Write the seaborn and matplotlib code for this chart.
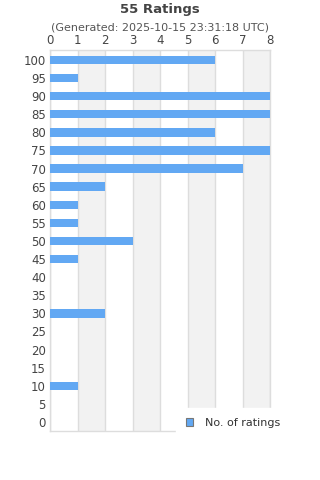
import matplotlib
matplotlib.use("Agg")
import matplotlib.pyplot as plt
import seaborn as sns
import pandas as pd

categories = [str(v) for v in range(100, -1, -5)]
counts = [6, 1, 8, 8, 6, 8, 7, 2, 1, 1, 3, 1, 0, 0, 2, 0, 0, 0, 1, 0, 0]
x_ticks = [0, 1, 2, 3, 4, 5, 6, 7, 8]
title = "55 Ratings"
subtitle = "(Generated: 2025-10-15 23:31:18 UTC)"
series_name = "No. of ratings"

df = pd.DataFrame({"rating": categories, "count": counts})

sns.set_theme(style="white")
plt.rcParams["font.family"] = ["DejaVu Sans"]

fig = plt.figure(figsize=(3.2, 4.8), dpi=100)
ax = fig.add_axes([50 / 320, 1 - 431 / 480, 220 / 320, 381 / 480])

# alternating bands
for i in range(1, 8, 2):
    ax.axvspan(i, i + 1, color="#f2f2f2", zorder=0, lw=0)

sns.barplot(data=df, x="count", y="rating", order=categories, orient="h",
            color="#62a8f3", saturation=1, width=0.46, ax=ax,
            label=series_name, zorder=3, linewidth=0, edgecolor="none")

ax.set_xlim(0, 8)
ax.set_ylim(len(categories) - 0.5, -0.55)
ax.set_xticks(x_ticks)
ax.xaxis.tick_top()
ax.set_xlabel("")
ax.set_ylabel("")
ax.grid(axis="x", color="#dddddd", lw=1, zorder=1)
ax.set_axisbelow(True)
ax.tick_params(axis="both", length=0, labelsize=8.5, labelcolor="#444444", pad=3)
ax.tick_params(axis="x", pad=2)
for s in ax.spines.values():
    s.set_color("#dddddd")
    s.set_linewidth(1)

fig.text(0.5, 1 - 10 / 480, title, ha="center", va="center",
         fontsize=9.5, fontweight="bold", color="#444444")
fig.text(0.5, 1 - 27 / 480, subtitle, ha="center", va="center",
         fontsize=8, color="#555555")

leg = ax.legend(loc="center left", bbox_to_anchor=(176 / 320, 1 - 423 / 480),
                bbox_transform=fig.transFigure, frameon=True, fancybox=False,
                fontsize=8, handlelength=0.65, handleheight=0.65,
                handletextpad=1.1, borderpad=0.9, borderaxespad=0)
leg.get_frame().set_facecolor("white")
leg.get_frame().set_edgecolor("white")
leg.get_frame().set_alpha(1)
for t in leg.get_texts():
    t.set_color("#333333")
for h in leg.legend_handles:
    h.set_edgecolor("#777777")
    h.set_linewidth(0.8)

fig.savefig("out.png", dpi=100)
